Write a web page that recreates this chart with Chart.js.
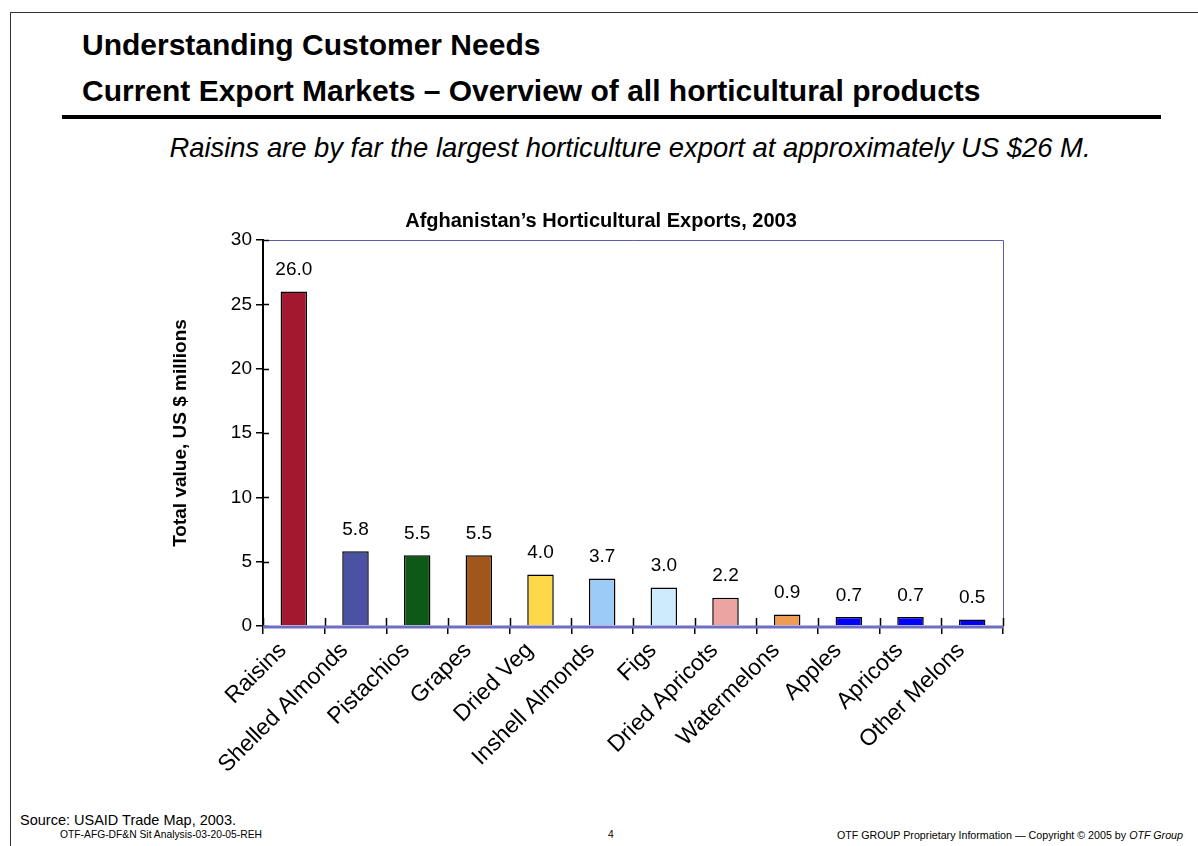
<!DOCTYPE html>
<html>
<head>
<meta charset="utf-8">
<script src="https://cdn.jsdelivr.net/npm/chart.js@4.4.1/dist/chart.umd.min.js"></script>
<style>
  html, body { margin: 0; padding: 0; background: #fff; }
  body { width: 1198px; height: 846px; position: relative; overflow: hidden; font-family: "Liberation Sans", Arial, sans-serif; }
  .frame { position: absolute; left: 10px; top: 12px; right: -2px; bottom: -2px; border-left: 1px solid #333; border-top: 1px solid #333; }
  .hd { position: absolute; left: 82px; font-weight: bold; font-size: 30px; color: #000; white-space: nowrap; }
  .rule { position: absolute; left: 62px; top: 115px; width: 1099px; height: 4px; background: #000; }
  .sub { position: absolute; left: 0; width: 1260px; top: 132px; text-align: center; font-style: italic; font-size: 27.4px; white-space: nowrap; }
  .foot { position: absolute; white-space: nowrap; color: #000; }
  #wrap { position: absolute; left: 0; top: 200px; width: 1198px; height: 600px; }
</style>
</head>
<body>
<div class="frame"></div>
<div class="hd" style="top:28px">Understanding Customer Needs</div>
<div class="hd" style="top:74px">Current Export Markets – Overview of all horticultural products</div>
<div class="rule"></div>
<div class="sub">Raisins are by far the largest horticulture export at approximately US $26 M.</div>
<div id="wrap"><canvas id="exportsChart"></canvas></div>
<div class="foot" style="left:20px;top:812px;font-size:14.5px">Source:  USAID Trade Map, 2003.</div>
<div class="foot" style="left:60px;top:829px;font-size:10.3px">OTF-AFG-DF&amp;N Sit Analysis-03-20-05-REH</div>
<div class="foot" style="left:608px;top:829px;font-size:10.3px">4</div>
<div class="foot" style="right:15px;top:829px;font-size:10.7px">OTF GROUP Proprietary Information — Copyright © 2005 by <i>OTF Group</i></div>
<script>
const products = ['Raisins', 'Shelled Almonds', 'Pistachios', 'Grapes', 'Dried Veg', 'Inshell Almonds',
  'Figs', 'Dried Apricots', 'Watermelons', 'Apples', 'Apricots', 'Other Melons'];
const exportValues = [26.0, 5.8, 5.5, 5.5, 4.0, 3.7, 3.0, 2.2, 0.9, 0.7, 0.7, 0.5];
const barColors = ['#A3182F', '#4B52A3', '#0D5A17', '#A1561B', '#FFD84A', '#9DCBF7',
  '#CDEBFD', '#EBA4A1', '#EE9C51', '#0000FF', '#0000FF', '#0000FF'];
const yTicks = [0, 5, 10, 15, 20, 25, 30];

const FONT = '"Liberation Sans", Arial, sans-serif';

// frame, crossing tick stubs, value labels and the chart heading
const decorations = {
  id: 'decorations',
  beforeDatasetsDraw(chart) {
    const { ctx, chartArea: a } = chart;
    ctx.save();
    ctx.strokeStyle = '#5B5BAE';
    ctx.lineWidth = 1;
    ctx.beginPath();
    ctx.moveTo(a.left, a.top + 0.5);
    ctx.lineTo(a.right + 0.5, a.top + 0.5);
    ctx.lineTo(a.right + 0.5, a.bottom);
    ctx.stroke();
    ctx.restore();
  },
  afterDraw(chart) {
    const { ctx, chartArea: a, scales: { x, y } } = chart;
    ctx.save();
    // inside halves of the tick marks
    ctx.strokeStyle = '#000';
    ctx.lineWidth = 1.5;
    const step = x.getPixelForValue(1) - x.getPixelForValue(0);
    ctx.beginPath();
    for (let i = 0; i <= products.length; i++) {
      const px = Math.round(x.getPixelForValue(i) - step / 2) + 0.5;
      ctx.moveTo(px, a.bottom);
      ctx.lineTo(px, a.bottom - 8);
    }
    yTicks.forEach(v => {
      const py = Math.round(y.getPixelForValue(v)) + 0.5;
      ctx.moveTo(a.left, py);
      ctx.lineTo(a.left + 6, py);
    });
    ctx.stroke();
    // bottom axis line
    ctx.strokeStyle = '#6E6EC4';
    ctx.lineWidth = 3;
    ctx.beginPath();
    ctx.moveTo(a.left, a.bottom + 1);
    ctx.lineTo(a.right, a.bottom + 1);
    ctx.stroke();
    // value labels
    ctx.fillStyle = '#000';
    ctx.font = '19px ' + FONT;
    ctx.textAlign = 'center';
    ctx.textBaseline = 'bottom';
    const meta = chart.getDatasetMeta(0);
    meta.data.forEach((bar, i) => {
      ctx.fillText(exportValues[i].toFixed(1), bar.x, bar.y - 12);
    });
    // heading
    ctx.font = 'bold 20px ' + FONT;
    ctx.textBaseline = 'alphabetic';
    ctx.fillText('Afghanistan\u2019s Horticultural Exports, 2003', a.left + 338, a.top - 13);
    ctx.restore();
  }
};

new Chart(document.getElementById('exportsChart').getContext('2d'), {
  type: 'bar',
  data: {
    labels: products,
    datasets: [{
      data: exportValues,
      backgroundColor: barColors,
      borderColor: '#000',
      borderWidth: 1.5,
      borderSkipped: 'bottom',
      categoryPercentage: 1,
      barPercentage: 0.43
    }]
  },
  options: {
    responsive: true,
    maintainAspectRatio: false,
    animation: false,
    layout: { padding: { top: 40, left: 165, right: 195, bottom: 0 } },
    plugins: {
      legend: { display: false },
      title: { display: false },
      tooltip: { enabled: false }
    },
    scales: {
      x: {
        afterFit(scale) { scale.height = 174; },
        grid: { offset: true, drawOnChartArea: false, drawTicks: true, tickLength: 8, color: '#000', lineWidth: 1.5 },
        border: { display: false },
        ticks: {
          color: '#000',
          font: { family: FONT, size: 23 },
          minRotation: 45,
          maxRotation: 45,
          padding: 3,
          labelOffset: -11,
          autoSkip: false
        }
      },
      y: {
        min: 0,
        max: 30,
        afterFit(scale) { scale.width = 98; },
        afterBuildTicks(scale) { scale.ticks = yTicks.map(v => ({ value: v })); },
        grid: { drawOnChartArea: false, drawTicks: true, tickLength: 7, color: '#000', lineWidth: 1.5 },
        border: { display: true, color: '#000', width: 2 },
        ticks: { color: '#000', font: { family: FONT, size: 19 }, padding: 4 },
        title: {
          display: true,
          text: 'Total value, US $ millions',
          color: '#000',
          font: { family: FONT, size: 19, weight: 'bold' },
          padding: { top: 4, bottom: 4 }
        }
      }
    }
  },
  plugins: [decorations]
});
</script>
</body>
</html>
